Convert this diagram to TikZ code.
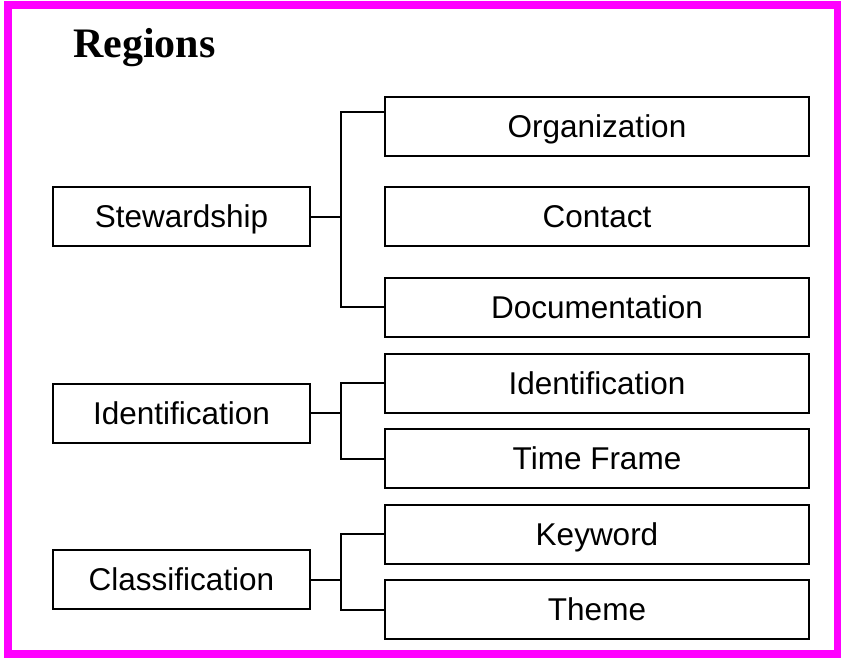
\documentclass[tikz,border=0pt]{standalone}
\usepackage{fontspec}
\setmainfont{Liberation Sans}
\newfontfamily\titlefont{Liberation Serif}
\usepackage{tikz}
\definecolor{framepink}{RGB}{255,0,255}

\begin{document}
\begin{tikzpicture}[x=1pt,y=-1pt,
  every node/.style={inner sep=0pt},
  region/.style={draw,line width=2pt,minimum width=257pt,minimum height=59pt,
    text height=22.5pt,text depth=0pt,font=\fontsize{31.5}{36}\selectfont},
  item/.style={draw,line width=2pt,minimum width=424pt,minimum height=59pt,
    text height=22.5pt,text depth=0pt,font=\fontsize{31.5}{36}\selectfont},
  link/.style={line width=2pt}]
\useasboundingbox (0,0) rectangle (841,657);
\draw [framepink,line width=8pt] (7.5,5) rectangle (837.5,653.5);
\node [anchor=base west,font=\titlefont\bfseries\fontsize{42}{50}\selectfont] (title) at (73,57) {Regions};
% left column
\node [region] (stew) at (181.5,216.5) {Stewardship};
\node [region] (ident) at (181.5,413) {Identification};
\node [region] (class) at (181.5,579.5) {Classification};
% right column
\node [item] (org) at (597,126) {Organization};
\node [item] (contact) at (597,216.5) {Contact};
\node [item] (doc) at (597,307) {Documentation};
\node [item] (idbox) at (597,383) {Identification};
\node [item] (time) at (597,458.5) {Time Frame};
\node [item] (key) at (597,534) {Keyword};
\node [item] (theme) at (597,609.5) {Theme};
% connectors
\draw [link] (stew.east) -- ++(30,0) coordinate (sj);
\draw [link] ([yshift=14pt]org.west) -| (sj) |- (doc.west);
\draw [link] (ident.east) -- ++(30,0) coordinate (ij);
\draw [link] (idbox.west) -| (ij) |- (time.west);
\draw [link] (class.east) -- ++(30,0) coordinate (cj);
\draw [link] (key.west) -| (cj) |- (theme.west);
\end{tikzpicture}
\end{document}
